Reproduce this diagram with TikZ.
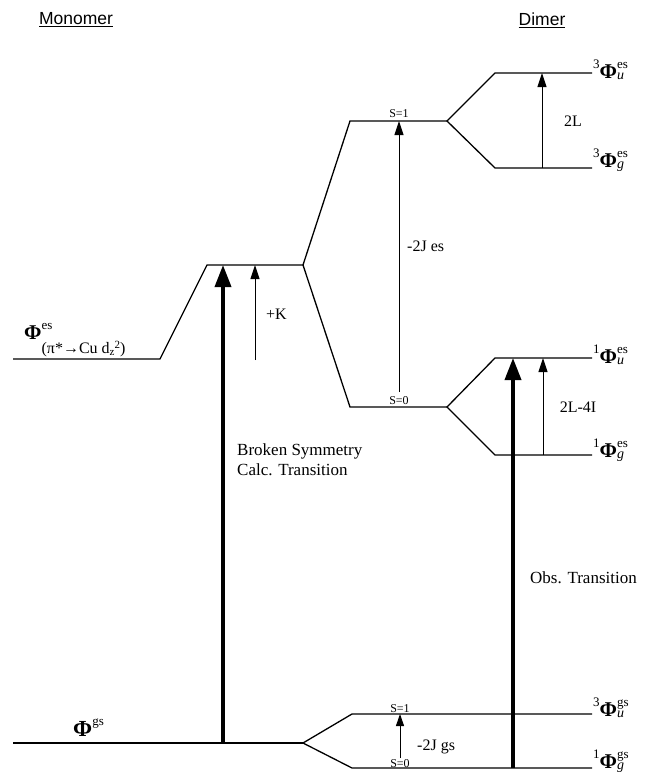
\documentclass[tikz,border=0pt]{standalone}
\usepackage{fontspec}
\setmainfont{Liberation Serif}
\newfontfamily\titlefont{Liberation Sans}
\usetikzlibrary{arrows.meta}
\newcommand\PhiS{{\fontsize{21}{21}\selectfont\bfseries Φ}}
\newcommand\smallsz{\fontsize{13}{13}\selectfont}
\newcommand\lev[3]{\raisebox{10pt}{\smallsz #1}\PhiS\rlap{\raisebox{10pt}{\smallsz #3}}\raisebox{-1pt}{\fontsize{14}{14}\selectfont\itshape #2}}
\begin{document}
\begin{tikzpicture}[x=1pt,y=-1pt,
  level/.style={line width=1.3pt, line join=miter},
  thinarrow/.style={line width=1pt, -{Triangle[length=14pt,width=9pt]}},
  thickarrow/.style={line width=3.6pt, -{Triangle[length=22pt,width=16pt]}},
  lbl/.style={inner sep=0pt, font=\fontsize{16}{19}\selectfont},
  big/.style={inner sep=0pt, font=\fontsize{17}{20}\selectfont},
  small/.style={inner sep=0pt, font=\fontsize{12}{13}\selectfont},
  title/.style={inner sep=0pt, font=\titlefont\fontsize{17.5}{19}\selectfont}]
\useasboundingbox (0,0) rectangle (650,776);
% coordinates
\coordinate (gsL) at (13,743);
\coordinate (gsR) at (303,743);
\coordinate (gs1A) at (352,714); \coordinate (gs1R) at (592,714);
\coordinate (gs0A) at (352,768); \coordinate (gs0R) at (592,768);
\coordinate (esL) at (13,359); \coordinate (esA) at (160,359);
\coordinate (esB) at (207,265); \coordinate (esR) at (303,265);
\coordinate (tA) at (350,121); \coordinate (tR) at (447,121);
\coordinate (sA) at (350,407); \coordinate (sR) at (447,407);
\coordinate (tuA) at (495,73); \coordinate (tuR) at (592,73);
\coordinate (tgA) at (495,168); \coordinate (tgR) at (592,168);
\coordinate (suA) at (495,358); \coordinate (suR) at (592,358);
\coordinate (sgA) at (495,455); \coordinate (sgR) at (592,455);
% levels
\draw[level] (gsL) -- (gsR);
\draw[level] (gs1R) -- (gs1A) -- (gsR) -- (gs0A) -- (gs0R);
\draw[level] (esL) -- (esA) -- (esB) -- (esR);
\draw[level] (tR) -- (tA) -- (esR) -- (sA) -- (sR);
\draw[level] (tuR) -- (tuA) -- (tR) -- (tgA) -- (tgR);
\draw[level] (suR) -- (suA) -- (sR) -- (sgA) -- (sgR);
% arrow ends
\coordinate (bsS) at (223,743); \coordinate (bsE) at (223,265);
\coordinate (kS) at (255,360); \coordinate (kE) at (255,265);
\coordinate (jeS) at (399,392); \coordinate (jeE) at (399,121);
\coordinate (lS) at (542,168); \coordinate (lE) at (542,73);
\coordinate (liS) at (543,455); \coordinate (liE) at (543,358);
\coordinate (obS) at (513,768); \coordinate (obE) at (513,358);
\coordinate (jgS) at (400,758); \coordinate (jgE) at (400,714);
\draw[thickarrow] (bsS) -- (bsE);
\draw[thickarrow] (obS) -- (obE);
\draw[thinarrow] (kS) -- (kE);
\draw[thinarrow] (jeS) -- (jeE);
\draw[thinarrow] (lS) -- (lE);
\draw[thinarrow] (liS) -- (liE);
\draw[thinarrow, -{Triangle[length=12pt,width=8pt]}] (jgS) -- (jgE);
% titles
\node[title] (tmono) at (76,20) {\underline{Monomer}};
\node[title] (tdim) at (542,20) {\underline{Dimer}};
% level labels
\node[lbl, anchor=base west] (pgs) at (73,736) {{\fontsize{23}{23}\selectfont\bfseries Φ}\raisebox{11pt}{\smallsz gs}};
\node[lbl, anchor=base west] (pes) at (24,339) {\PhiS\rlap{\raisebox{10pt}{\smallsz es}}\raisebox{-14pt}{\fontsize{16}{16}\selectfont (π*→Cu d\raisebox{-2pt}{\fontsize{11}{11}\selectfont z}\raisebox{5pt}{\fontsize{11}{11}\selectfont 2})}};
\node[lbl, anchor=base west] (ltu) at (593,78) {\lev{3}{u}{es}};
\node[lbl, anchor=base west] (ltg) at (593,167) {\lev{3}{g}{es}};
\node[lbl, anchor=base west] (lsu) at (593,363) {\lev{1}{u}{es}};
\node[lbl, anchor=base west] (lsg) at (593,457) {\lev{1}{g}{es}};
\node[lbl, anchor=base west] (lgu) at (593,716) {\lev{3}{u}{gs}};
\node[lbl, anchor=base west] (lgg) at (593,768) {\lev{1}{g}{gs}};
% small labels
\node[small, anchor=base] (s1) at (399,117) {S=1};
\node[small, anchor=base] (s0) at (399,404) {S=0};
\node[small, anchor=base] (g1) at (400,712) {S=1};
\node[small, anchor=base] (g0) at (400,767) {S=0};
\node[lbl, anchor=west] (k) at (266,314) {+K};
\node[lbl, anchor=west] (je) at (407,246) {-2J es};
\node[lbl, anchor=west] (jg) at (417,747) {-2J gs};
\node[lbl, anchor=center] (l2) at (573,121) {2L};
\node[lbl, anchor=center] (l4) at (578,407) {2L-4I};
\node[big, anchor=base west, align=left] (bs) at (237,475) {Broken Symmetry\\Calc. Transition};
\node[big, anchor=base west] (obs) at (530,583) {Obs. Transition};
\end{tikzpicture}
\end{document}
